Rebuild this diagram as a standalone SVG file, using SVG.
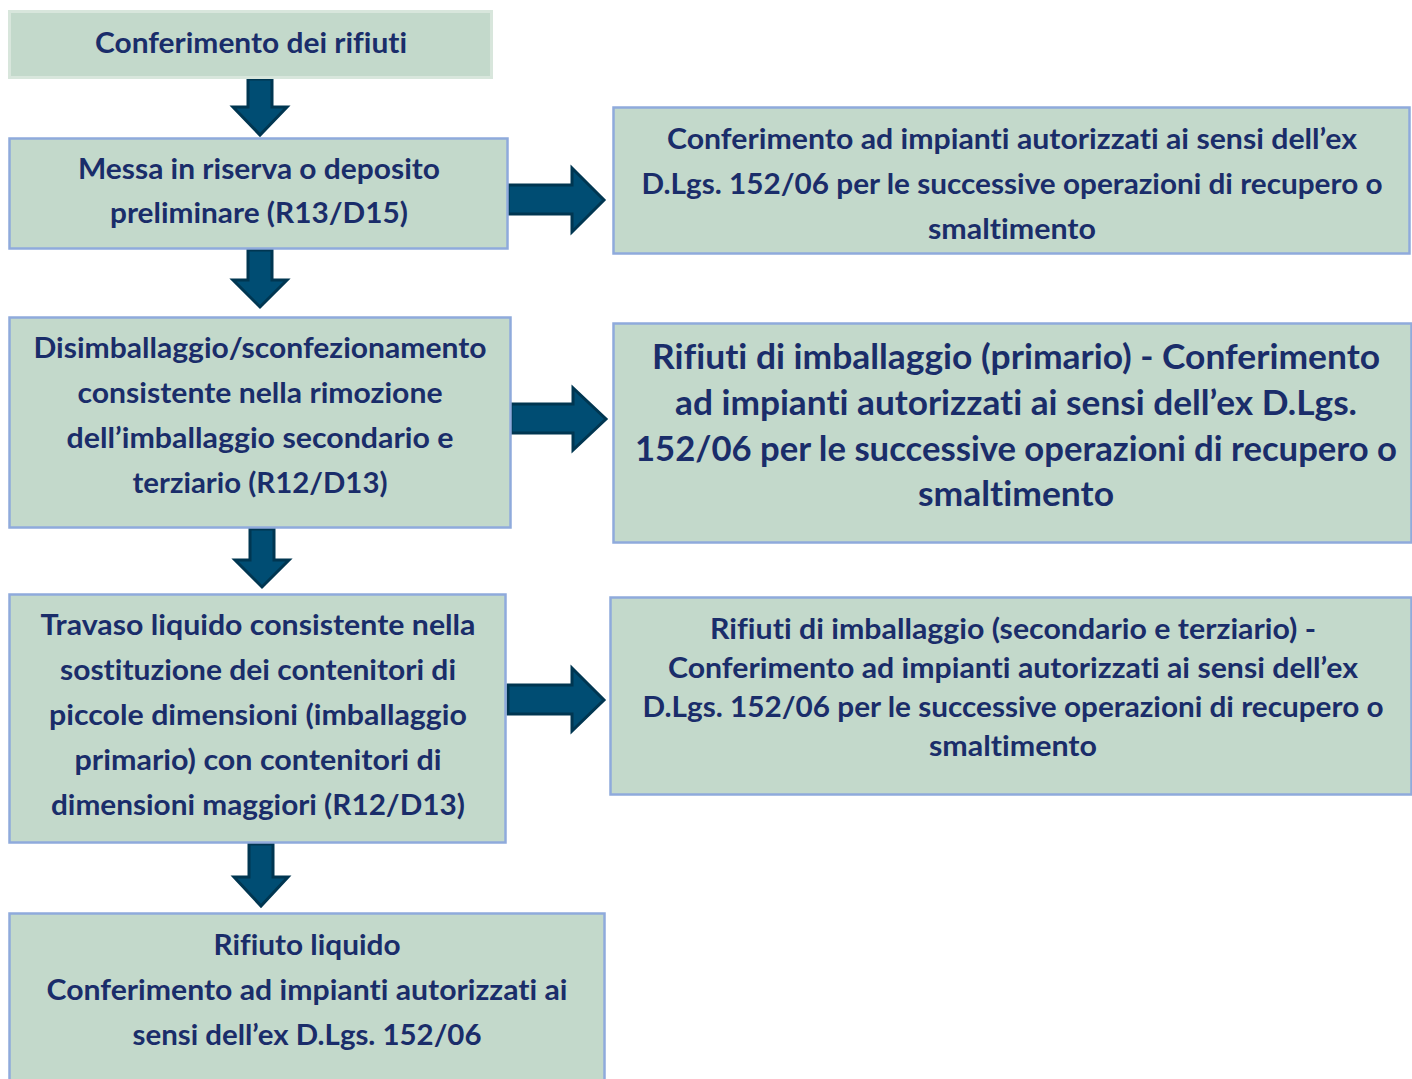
<svg xmlns="http://www.w3.org/2000/svg" width="1412" height="1079" viewBox="0 0 1412 1079">
<style>
.box{fill:#c3d9cb;stroke:#8faadc;stroke-width:2.5}
.box0{fill:#c3d9cb;stroke:#d8e6dc;stroke-width:3}
.arr{fill:#004d73;stroke:#003651;stroke-width:3;stroke-linejoin:miter}
text{font-family:Lato,"Open Sans","Liberation Sans",sans-serif;font-weight:bold;fill:#1a2d6a;text-anchor:middle;font-size:29px;font-variant-ligatures:none;font-feature-settings:"liga" 0,"clig" 0,"dlig" 0}
.big{font-size:34px}
</style>
<rect width="1412" height="1079" fill="#ffffff"/>
<g id="connectors">
<polygon class="arr" points="248,79 272,79 272,107 287,107 260,135 233,107 248,107"/>
<polygon class="arr" points="248,250 272,250 272,280 287,280 260,307 233,280 248,280"/>
<polygon class="arr" points="250,529 274,529 274,560 289,560 262,587 235,560 250,560"/>
<polygon class="arr" points="249,844 273,844 273,877 288,877 261,906 234,877 249,877"/>
<polygon class="arr" points="508,185 572,185 572,168 604,200 572,232 572,214 508,214"/>
<polygon class="arr" points="511,404 573,404 573,388 606,419 573,450 573,433 511,433"/>
<polygon class="arr" points="508,685 572,685 572,668 604,700 572,731 572,714 508,714"/>
</g>
<g id="n1">
<rect class="box0" x="9.5" y="11.5" width="482" height="66"/>
<text x="251" y="53" textLength="312" lengthAdjust="spacingAndGlyphs">Conferimento dei rifiuti</text>
</g>
<g id="n2">
<rect class="box" x="9.5" y="138.5" width="498" height="110"/>
<text x="259" y="179" textLength="362" lengthAdjust="spacingAndGlyphs">Messa in riserva o deposito</text>
<text x="259" y="223" textLength="298" lengthAdjust="spacingAndGlyphs">preliminare (R13/D15)</text>
</g>
<g id="n3">
<rect class="box" x="9.5" y="317.5" width="501" height="210"/>
<text x="260" y="358" textLength="453" lengthAdjust="spacingAndGlyphs">Disimballaggio/sconfezionamento</text>
<text x="260" y="403" textLength="365" lengthAdjust="spacingAndGlyphs">consistente nella rimozione</text>
<text x="260" y="448" textLength="387" lengthAdjust="spacingAndGlyphs">dell’imballaggio secondario e</text>
<text x="260" y="493" textLength="255" lengthAdjust="spacingAndGlyphs">terziario (R12/D13)</text>
</g>
<g id="n4">
<rect class="box" x="9.5" y="594.5" width="496" height="248"/>
<text x="258" y="635" textLength="435" lengthAdjust="spacingAndGlyphs">Travaso liquido consistente nella</text>
<text x="258" y="680" textLength="396" lengthAdjust="spacingAndGlyphs">sostituzione dei contenitori di</text>
<text x="258" y="725" textLength="418" lengthAdjust="spacingAndGlyphs">piccole dimensioni (imballaggio</text>
<text x="258" y="770" textLength="367" lengthAdjust="spacingAndGlyphs">primario) con contenitori di</text>
<text x="258" y="815" textLength="414" lengthAdjust="spacingAndGlyphs">dimensioni maggiori (R12/D13)</text>
</g>
<g id="n5">
<rect class="box" x="9.5" y="913.5" width="595" height="180"/>
<text x="307" y="955" textLength="187" lengthAdjust="spacingAndGlyphs">Rifiuto liquido</text>
<text x="307" y="1000" textLength="521" lengthAdjust="spacingAndGlyphs">Conferimento ad impianti autorizzati ai</text>
<text x="307" y="1045" textLength="349" lengthAdjust="spacingAndGlyphs">sensi dell’ex D.Lgs. 152/06</text>
</g>
<g id="r1">
<rect class="box" x="613.5" y="107.5" width="796" height="146"/>
<text x="1012" y="149" textLength="690" lengthAdjust="spacingAndGlyphs">Conferimento ad impianti autorizzati ai sensi dell’ex</text>
<text x="1012" y="194" textLength="741" lengthAdjust="spacingAndGlyphs">D.Lgs. 152/06 per le successive operazioni di recupero o</text>
<text x="1012" y="239" textLength="168" lengthAdjust="spacingAndGlyphs">smaltimento</text>
</g>
<g id="r2">
<rect class="box" x="613.5" y="323.5" width="798" height="219"/>
<text class="big" x="1016" y="369" textLength="728" lengthAdjust="spacingAndGlyphs">Rifiuti di imballaggio (primario) - Conferimento</text>
<text class="big" x="1016" y="415" textLength="682" lengthAdjust="spacingAndGlyphs">ad impianti autorizzati ai sensi dell’ex D.Lgs.</text>
<text class="big" x="1016" y="461" textLength="762" lengthAdjust="spacingAndGlyphs">152/06 per le successive operazioni di recupero o</text>
<text class="big" x="1016" y="506" textLength="196" lengthAdjust="spacingAndGlyphs">smaltimento</text>
</g>
<g id="r3">
<rect class="box" x="610.5" y="597.5" width="801" height="197"/>
<text x="1013" y="639" textLength="606" lengthAdjust="spacingAndGlyphs">Rifiuti di imballaggio (secondario e terziario) -</text>
<text x="1013" y="678" textLength="690" lengthAdjust="spacingAndGlyphs">Conferimento ad impianti autorizzati ai sensi dell’ex</text>
<text x="1013" y="717" textLength="741" lengthAdjust="spacingAndGlyphs">D.Lgs. 152/06 per le successive operazioni di recupero o</text>
<text x="1013" y="756" textLength="168" lengthAdjust="spacingAndGlyphs">smaltimento</text>
</g>
</svg>
